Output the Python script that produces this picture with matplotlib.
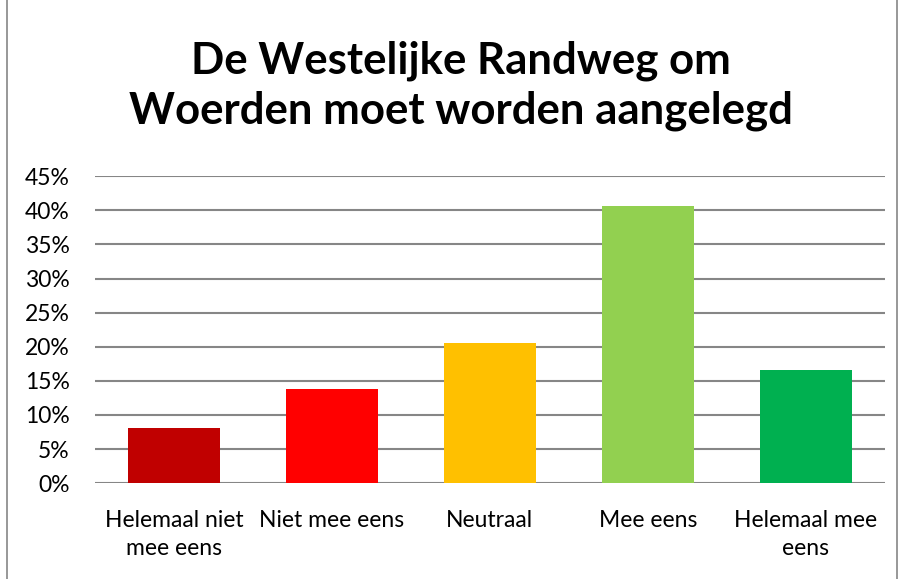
import matplotlib.pyplot as plt
from matplotlib.patches import Rectangle
from matplotlib.ticker import PercentFormatter

plt.rcParams['font.family'] = ['Lato', 'DejaVu Sans']

categories = ['Helemaal niet\nmee eens', 'Niet mee eens', 'Neutraal', 'Mee eens', 'Helemaal mee\neens']
shares = [0.081, 0.138, 0.206, 0.406, 0.166]
colors = ['#C00000', '#FF0000', '#FFC000', '#92D050', '#00B050']
yticks = [0, 0.05, 0.10, 0.15, 0.20, 0.25, 0.30, 0.35, 0.40, 0.45]
title = 'De Westelijke Randweg om\nWoerden moet worden aangelegd'

fig = plt.figure(figsize=(9.03, 5.79), dpi=100)
ax = fig.add_axes([0.105, 0.1655, 0.875, 0.5300])

x = range(len(categories))
ax.bar(x, shares, width=0.58, color=colors, zorder=3)

ax.set_ylim(0, 0.45)
ax.set_xlim(-0.5, len(categories) - 0.5)
ax.set_yticks(yticks)
ax.yaxis.set_major_formatter(PercentFormatter(1.0, decimals=0))
ax.set_xticks(list(x))
ax.set_xticklabels(categories, fontsize=16.5, linespacing=1.42)
ax.tick_params(axis='y', labelsize=16.5, length=0, pad=18)
ax.tick_params(axis='x', length=0, pad=19)
ax.grid(axis='y', color='#868686', linewidth=1.5, zorder=0)
for s in ['top', 'right', 'left', 'bottom']:
    ax.spines[s].set_visible(False)

fig.text(0.51, 0.852, title, ha='center', va='center', fontsize=31.5,
         fontweight='bold', linespacing=1.3)

# outer chart border
fig.patches.append(Rectangle((0.008, -0.01), 0.985, 1.02, transform=fig.transFigure,
                             fill=False, edgecolor='#868686', linewidth=1.2))

fig.savefig('out.png', dpi=100)
